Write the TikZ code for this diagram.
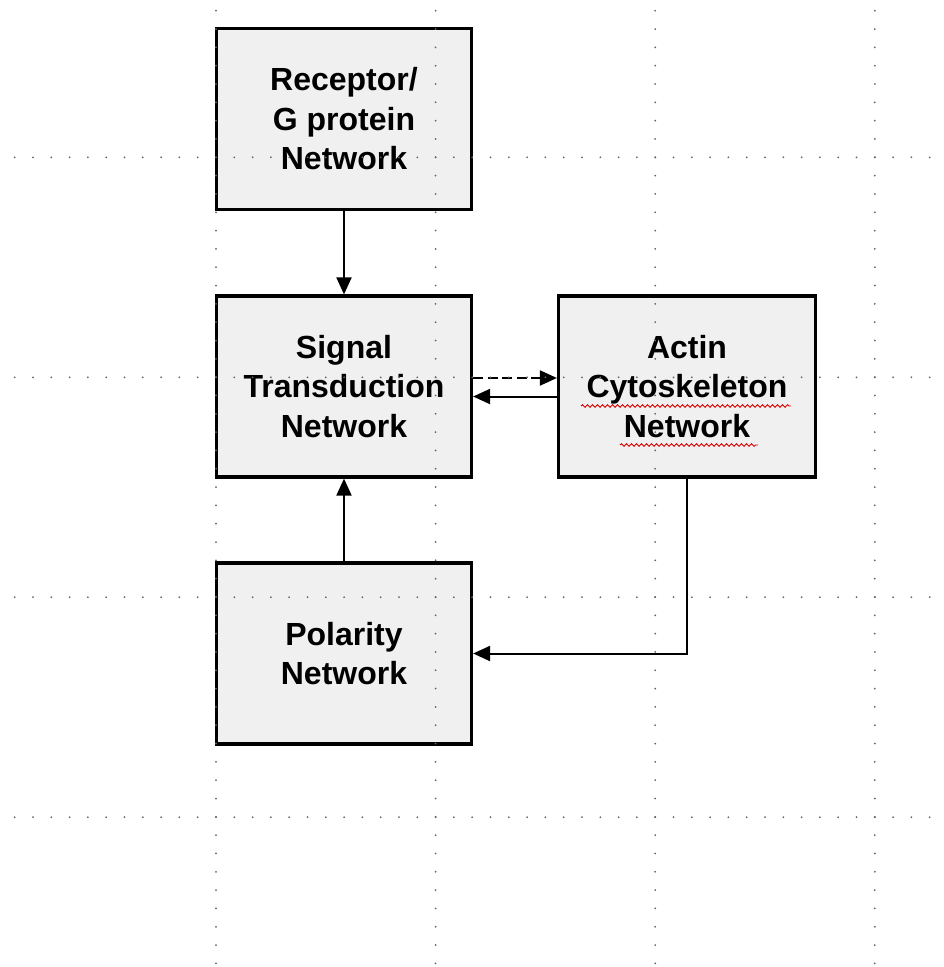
\documentclass[tikz,border=0pt]{standalone}
\usepackage{fontspec}
\setmainfont{Liberation Sans}
\usetikzlibrary{arrows.meta,calc,decorations.pathmorphing}
\definecolor{boxgray}{HTML}{F0F0F0}
\definecolor{dotgray}{HTML}{666666}
\begin{document}
\begin{tikzpicture}[x=1pt,y=-1pt,
  box/.style={draw=black,line width=3.2pt,fill=boxgray,minimum width=255pt,minimum height=181pt,
    align=center,inner sep=0pt,font=\fontsize{32}{39.5}\selectfont\bfseries},
  conn/.style={draw=black,line width=2pt,-{Triangle[length=17pt,width=15pt]}},
  dashconn/.style={conn,dash pattern=on 10pt off 4.5pt},
  griddot/.style={fill=dotgray,draw=none},
  spell/.style={draw=red!85!black,line width=0.9pt,decorate,
    decoration={snake,segment length=5pt,amplitude=1.3pt}}
]
\useasboundingbox (0,0) rectangle (944,967);
\fill[white] (0,0) rectangle (944,967);

% boxes
\node[box] (Rec) at (344,119) {\raisebox{-3pt}{Receptor/}\\\raisebox{-3pt}{G protein}\\\raisebox{-3pt}{Network}};
\node[box] (Sig) at (344,386.5) {Signal\\Transduction\\Network};
\node[box,minimum width=257pt] (Act) at (687,386.5) {Actin\\Cytoskeleton\\Network};
\node[box] (Pol) at (344,653.5) {Polarity\\Network};

% spellcheck underlines
\draw[spell] ($(Act.center)+(-106,19.5)$) -- ($(Act.center)+(104,19.5)$);
\draw[spell] ($(Act.center)+(-67,58.5)$) -- ($(Act.center)+(71,58.5)$);

% connectors
\draw[conn] (Rec.south) -- (Sig.north);
\draw[conn] (Pol.north) -- (Sig.south);
\draw[dashconn] ([yshift=8.5pt]Sig.east) -- ([yshift=8.5pt]Act.west);
\draw[conn] ([yshift=-10pt]Act.west) -- ([yshift=-10pt]Sig.east);
\draw[conn] (Act.south) |- (Pol.east);

% dotted guide grid
\foreach \gy in {157.3,377.3,597.2,817.2}{
  \foreach \k in {-11,...,39}{
    \fill[griddot] ({216+\k*18.3},\gy) circle (1pt);
  }
}
\foreach \gx in {216,435.6,655.2,874.8}{
  \foreach \k in {-8,...,44}{
    \fill[griddot] (\gx,{157.3+\k*18.32}) circle (1pt);
  }
}
\end{tikzpicture}
\end{document}
